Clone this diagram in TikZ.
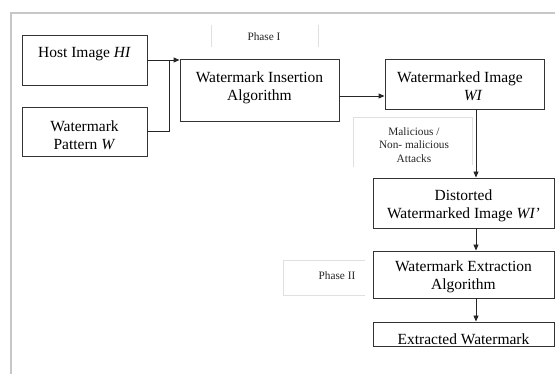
\documentclass[tikz,border=0pt]{standalone}
\usepackage{fontspec}
\setmainfont{Liberation Serif}
\usetikzlibrary{arrows.meta}
\begin{document}
\begin{tikzpicture}[x=1pt,y=-1pt,
  stagebox/.style={draw=black!80,line width=0.9pt,inner sep=0pt,fill=none},
  stagetext/.style={font=\fontsize{15.5}{18}\selectfont,align=center,text=black,inner sep=0pt},
  notetext/.style={font=\fontsize{11.3}{13.5}\selectfont,align=center,text=black!85,inner sep=0pt},
  frameline/.style={draw=black!22,line width=1.4pt},
  noteline/.style={draw=black!12,line width=0.7pt},
  flow/.style={draw=black!85,line width=0.9pt},
  arr/.style={flow,-{Triangle[length=6pt,width=5pt]}}]
\useasboundingbox (0,0) rectangle (555,374);
\fill[white] (0,0) rectangle (555,374);

% outer frame (top and left edges)
\draw[frameline] (555,13) -- (11,13) -- (11,374);

% stage boxes
\node[stagebox,minimum width=125pt,minimum height=50pt] (host) at (84.5,60) {};
\node[stagebox,minimum width=125pt,minimum height=49pt] (pattern) at (84.5,131.5) {};
\node[stagebox,minimum width=159pt,minimum height=62pt] (insert) at (259.5,90) {};
\node[stagebox,minimum width=159pt,minimum height=50pt] (marked) at (464.5,84) {};
\node[stagebox,minimum width=181pt,minimum height=50pt] (distort) at (463.5,203) {};
\node[stagebox,minimum width=181pt,minimum height=47pt] (extract) at (463.5,274.5) {};
\node[stagebox,minimum width=181pt,minimum height=24pt] (result) at (463.5,334) {};

% box texts
\node[stagetext] (hostT) at (84.5,54) {Host Image \textit{HI}};
\node[stagetext] (patternT) at (84.5,135) {Watermark\\Pattern \textit{W}};
\node[stagetext] (insertT) at (259.5,88) {Watermark Insertion\\Algorithm};
\node[stagetext] (markedT) at (460,86) {Watermarked Image\\\hspace*{1.7em}\textit{WI}};
\node[stagetext] (distortT) at (463.5,206) {Distorted\\Watermarked Image \textit{WI’}};
\node[stagetext] (extractT) at (463.5,277) {Watermark Extraction\\Algorithm};
\node[stagetext,anchor=base] (resultT) at (463.5,344.5) {Extracted Watermark};

% phase and attack notes
\draw[noteline] (211,25) -- (211,47);
\draw[noteline] (318,25) -- (318,47);
\node[notetext] (phase1) at (264,37) {Phase I};
\draw[noteline] (353,167) -- (353,117) -- (472,117) -- (472,165);
\node[notetext] (attack) at (414,145) {Malicious /\\Non- malicious\\Attacks};
\draw[noteline] (365,260) -- (283,260) -- (283,295) -- (365,295);
\node[notetext] (phase2) at (337,276) {Phase II};

% connectors
\coordinate (join) at (169,60);
\coordinate (drop) at (476,0);
\draw[arr] (host.east) -- (host.east -| insert.west);
\draw[flow] (pattern.east) -| (join);
\draw[arr] (insert.east) ++(0,6) coordinate (outI) -- (outI -| marked.west);
\draw[arr] (marked.south -| drop) -- (distort.north -| drop);
\draw[arr] (distort.south -| drop) -- (extract.north -| drop);
\draw[arr] (extract.south -| drop) -- (result.north -| drop);
\end{tikzpicture}
\end{document}
